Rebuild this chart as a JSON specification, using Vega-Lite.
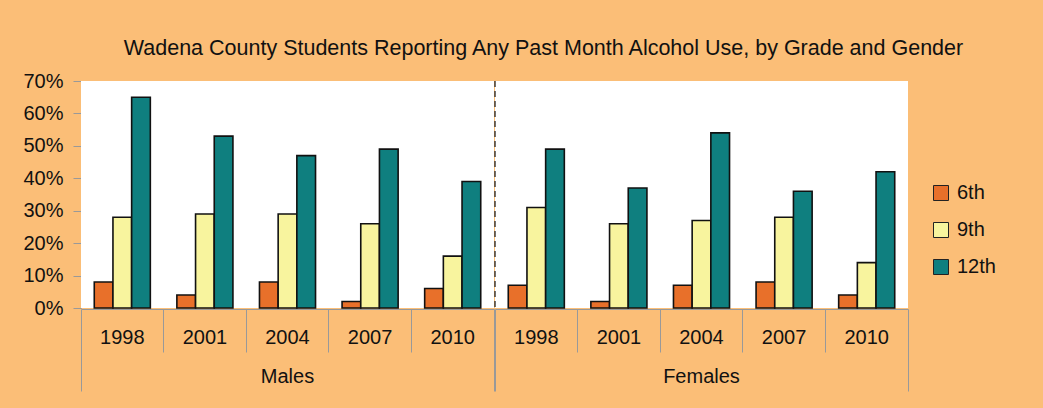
{
  "$schema": "https://vega.github.io/schema/vega-lite/v6.json",
  "background": "#FBBE77",
  "padding": {"left": 22, "top": 37, "right": 48, "bottom": 16},
  "title": {
    "text": "Wadena County Students Reporting Any Past Month Alcohol Use, by Grade and Gender",
    "font": "Liberation Sans",
    "fontSize": 21.5,
    "fontWeight": "normal",
    "color": "#111111",
    "anchor": "middle",
    "offset": 12,
    "dx": 34
  },
  "data": {
    "values": [
      {"gender": "Males", "year": "1998", "grade": "6th", "value": 0.08},
      {"gender": "Males", "year": "1998", "grade": "9th", "value": 0.28},
      {"gender": "Males", "year": "1998", "grade": "12th", "value": 0.65},
      {"gender": "Males", "year": "2001", "grade": "6th", "value": 0.04},
      {"gender": "Males", "year": "2001", "grade": "9th", "value": 0.29},
      {"gender": "Males", "year": "2001", "grade": "12th", "value": 0.53},
      {"gender": "Males", "year": "2004", "grade": "6th", "value": 0.08},
      {"gender": "Males", "year": "2004", "grade": "9th", "value": 0.29},
      {"gender": "Males", "year": "2004", "grade": "12th", "value": 0.47},
      {"gender": "Males", "year": "2007", "grade": "6th", "value": 0.02},
      {"gender": "Males", "year": "2007", "grade": "9th", "value": 0.26},
      {"gender": "Males", "year": "2007", "grade": "12th", "value": 0.49},
      {"gender": "Males", "year": "2010", "grade": "6th", "value": 0.06},
      {"gender": "Males", "year": "2010", "grade": "9th", "value": 0.16},
      {"gender": "Males", "year": "2010", "grade": "12th", "value": 0.39},
      {"gender": "Females", "year": "1998", "grade": "6th", "value": 0.07},
      {"gender": "Females", "year": "1998", "grade": "9th", "value": 0.31},
      {"gender": "Females", "year": "1998", "grade": "12th", "value": 0.49},
      {"gender": "Females", "year": "2001", "grade": "6th", "value": 0.02},
      {"gender": "Females", "year": "2001", "grade": "9th", "value": 0.26},
      {"gender": "Females", "year": "2001", "grade": "12th", "value": 0.37},
      {"gender": "Females", "year": "2004", "grade": "6th", "value": 0.07},
      {"gender": "Females", "year": "2004", "grade": "9th", "value": 0.27},
      {"gender": "Females", "year": "2004", "grade": "12th", "value": 0.54},
      {"gender": "Females", "year": "2007", "grade": "6th", "value": 0.08},
      {"gender": "Females", "year": "2007", "grade": "9th", "value": 0.28},
      {"gender": "Females", "year": "2007", "grade": "12th", "value": 0.36},
      {"gender": "Females", "year": "2010", "grade": "6th", "value": 0.04},
      {"gender": "Females", "year": "2010", "grade": "9th", "value": 0.14},
      {"gender": "Females", "year": "2010", "grade": "12th", "value": 0.42},
      {"gender": "Females", "year": "1998", "divider": 1}
    ]
  },
  "facet": {
    "column": {
      "field": "gender",
      "type": "nominal",
      "sort": ["Males", "Females"],
      "header": {
        "title": null,
        "labelOrient": "bottom",
        "labelFont": "Liberation Sans",
        "labelFontSize": 20,
        "labelColor": "#111111",
        "labelPadding": -25
      }
    }
  },
  "spacing": 0,
  "spec": {
    "width": 413,
    "height": 227,
    "layer": [
      {
        "transform": [{"filter": "datum.grade != null"}],
        "mark": {"type": "bar", "stroke": "#111111", "strokeWidth": 1.6},
        "encoding": {
          "x": {
            "field": "year",
            "type": "nominal",
            "scale": {"paddingInner": 0, "paddingOuter": 0},
            "axis": {
              "title": null,
              "labelAngle": 0,
              "bandPosition": 1,
              "tickExtra": true,
              "domainColor": "#999999",
              "tickColor": "#999999",
              "tickSize": {"condition": {"test": "datum.value === '2010' || datum.extra", "value": 82}, "value": 43},
              "labelPadding": {"condition": {"test": "datum.value === '2010'", "value": -64}, "value": -25},
              "labelFont": "Liberation Sans",
              "labelFontSize": 20,
              "labelColor": "#111111"
            }
          },
          "xOffset": {
            "field": "grade",
            "type": "nominal",
            "sort": ["6th", "9th", "12th"],
            "scale": {"paddingInner": 0, "paddingOuter": 0.71}
          },
          "y": {
            "field": "value",
            "type": "quantitative",
            "scale": {"domain": [0, 0.7], "nice": false},
            "axis": {
              "title": null,
              "format": ".0%",
              "values": [0, 0.1, 0.2, 0.3, 0.4, 0.5, 0.6, 0.7],
              "grid": false,
              "domainColor": "#999999",
              "tickColor": "#999999",
              "tickSize": 8,
              "labelPadding": 10,
              "labelFont": "Liberation Sans",
              "labelFontSize": 20,
              "labelColor": "#111111"
            }
          },
          "color": {
            "field": "grade",
            "type": "nominal",
            "sort": ["6th", "9th", "12th"],
            "scale": {"domain": ["6th", "9th", "12th"], "range": ["#E8702A", "#F8F49E", "#0F7F7F"]},
            "legend": {
              "title": null,
              "orient": "none",
              "legendX": 850,
              "legendY": 102,
              "symbolType": "square",
              "symbolSize": 225,
              "symbolStrokeColor": "#222222",
              "symbolStrokeWidth": 1,
              "symbolOpacity": 1,
              "labelFont": "Liberation Sans",
              "labelFontSize": 20,
              "labelColor": "#111111",
              "labelOffset": 6,
              "rowPadding": 17
            }
          }
        }
      },
      {
        "transform": [{"filter": "datum.divider == 1"}],
        "mark": {"type": "rule", "strokeDash": [6, 4], "color": "#222222", "strokeWidth": 1.3},
        "encoding": {
          "x": {"field": "year", "type": "nominal", "bandPosition": 0}
        }
      }
    ]
  },
  "config": {
    "view": {"stroke": null, "fill": "white"}
  }
}
